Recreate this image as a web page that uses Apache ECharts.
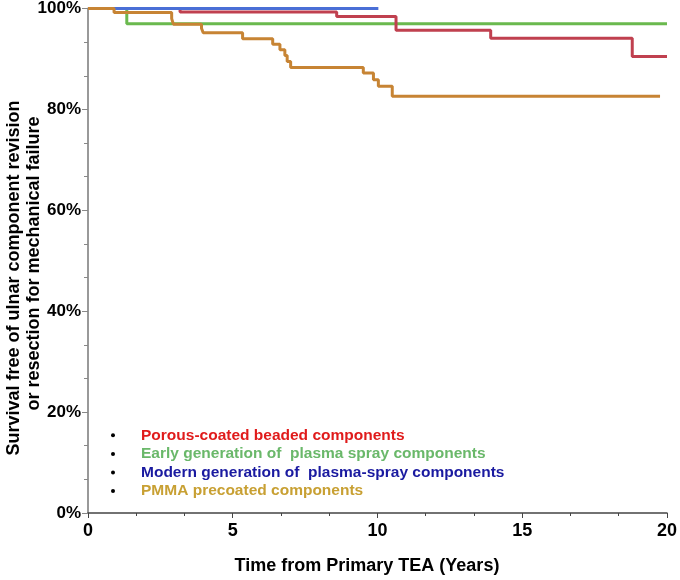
<!DOCTYPE html>
<html>
<head>
<meta charset="utf-8">
<script src="https://cdn.jsdelivr.net/npm/echarts@6/dist/echarts.min.js"></script>
<style>
html,body{margin:0;padding:0;background:#fff;}
#chart{width:680px;height:580px;}
</style>
</head>
<body>
<div id="chart"></div>
<script>
// Series names (legend order)
const seriesNames = [
  'Porous-coated beaded components',
  'Early generation of  plasma spray components',
  'Modern generation of  plasma-spray components',
  'PMMA precoated components'
];
// Kaplan-Meier step data: time (years) and survival (%)
const porousT = [0, 3.18, 8.59, 10.64, 13.91, 18.8, 20];
const porousS = [100, 99.3, 98.4, 95.7, 94.1, 90.5, 90.5];
const earlyT = [0, 1.34, 20];
const earlyS = [100, 97.0, 97.0];
const modernT = [0, 10.03];
const modernS = [100, 100];
const pmmaT = [0, 0.90, 2.89, 2.95, 3.92, 3.98, 5.34, 6.38, 6.63, 6.80, 6.88, 7.00, 9.51, 9.86, 10.03, 10.51, 19.76];
const pmmaS = [100, 99.2, 98.0, 96.9, 96.1, 95.2, 94.0, 92.9, 91.8, 90.7, 89.5, 88.3, 87.2, 85.9, 84.6, 82.6, 82.6];
// Axis ticks
const xTicks = [0, 5, 10, 15, 20];
const yTicks = [0, 20, 40, 60, 80, 100];
const xTitle = 'Time from Primary TEA (Years)';
const yTitle1 = 'Survival free of ulnar component revision';
const yTitle2 = 'or resection for mechanical failure';

const lineColors = ['#c0404f', '#6ab94e', '#4a6fd6', '#c78434'];
const textColors = ['#e01b1b', '#6ab86a', '#1a1aa0', '#c8a033'];
const FONT = "'Liberation Sans', Arial, sans-serif";

function pairs(t, s) { return t.map((v, i) => [v, s[i]]); }

const chart = echarts.init(document.getElementById('chart'));
const mk = (idx, t, s) => ({
  name: seriesNames[idx],
  type: 'line',
  step: 'end',
  data: pairs(t, s),
  showSymbol: false,
  symbol: 'none',
  lineStyle: { color: lineColors[idx], width: 3 },
  itemStyle: { color: lineColors[idx] },
  animation: false
});

chart.setOption({
  animation: false,
  grid: { left: 88, right: 13, top: 7, bottom: 64, containLabel: false },
  xAxis: {
    type: 'value',
    min: xTicks[0], max: xTicks[xTicks.length - 1], interval: 5,
    name: xTitle,
    nameLocation: 'middle',
    nameGap: 44,
    nameTextStyle: { fontFamily: FONT, fontWeight: 'bold', fontSize: 18, color: '#000', padding: [0, 21, 0, 0] },
    axisLine: { lineStyle: { color: '#444', width: 1.5 } },
    axisTick: { show: true, inside: false, length: 5, lineStyle: { color: '#444', width: 1 } },
    minorTick: { show: true, splitNumber: 3, length: 3, lineStyle: { color: '#444', width: 1 } },
    axisLabel: { fontFamily: FONT, fontWeight: 'bold', fontSize: 18, color: '#000', margin: 9 },
    splitLine: { show: false }
  },
  yAxis: {
    type: 'value',
    min: yTicks[0], max: yTicks[yTicks.length - 1], interval: 20,
    axisLine: { show: true, lineStyle: { color: '#999', width: 2 } },
    axisTick: { show: true, inside: false, length: 6, lineStyle: { color: '#888', width: 1 } },
    minorTick: { show: true, splitNumber: 3, length: 4, lineStyle: { color: '#888', width: 1 } },
    axisLabel: { fontFamily: FONT, fontWeight: 'bold', fontSize: 17, color: '#000', margin: 7, formatter: '{value}%' },
    splitLine: { show: false }
  },
  legend: {
    orient: 'vertical',
    left: 106,
    top: 421,
    icon: 'circle',
    itemWidth: 46,
    itemHeight: 4,
    itemGap: 0,
    selectedMode: false,
    itemStyle: { color: '#000' },
    textStyle: { fontFamily: FONT, fontWeight: 'bold', fontSize: 15.5, lineHeight: 18.6 },
    data: seriesNames.map((n, i) => ({ name: n, itemStyle: { color: '#000' }, textStyle: { color: textColors[i] } }))
  },
  graphic: [
    { type: 'text', x: 14, y: 278, rotation: Math.PI / 2,
      style: { text: yTitle1, x: 0, y: 0, textAlign: 'center', textVerticalAlign: 'middle', font: "bold 18px " + FONT, fill: '#000' } },
    { type: 'text', x: 34, y: 263.5, rotation: Math.PI / 2,
      style: { text: yTitle2, x: 0, y: 0, textAlign: 'center', textVerticalAlign: 'middle', font: "bold 18px " + FONT, fill: '#000' } }
  ],
  series: [
    mk(1, earlyT, earlyS),
    mk(0, porousT, porousS),
    mk(2, modernT, modernS),
    mk(3, pmmaT, pmmaS)
  ]
});
</script>
</body>
</html>
